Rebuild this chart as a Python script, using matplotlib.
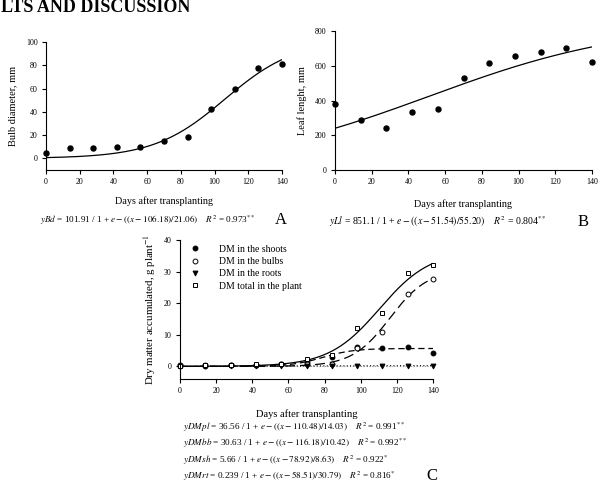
import numpy as np
import matplotlib
matplotlib.use("Agg")
import matplotlib.pyplot as plt

plt.rcParams["font.family"] = ["Liberation Serif", "DejaVu Serif"]
plt.rcParams["mathtext.fontset"] = "stix"

# sampling days
days = [0, 14, 28, 42, 56, 70, 84, 98, 112, 126, 140]

# panel A - bulb diameter (mm)
bulb_diam = [5, 8.5, 9, 9.5, 10, 15, 18.5, 42.5, 59.5, 78, 81]
bd_fit = [101.91, 106.18, 21.06]  # a, x0, b

# panel B - leaf length (mm)
leaf_len = [380, 288, 240, 335, 350, 527, 617, 655, 680, 702, 622]
ll_fit = [851.1, 51.54, 55.20]

# panel C - dry matter (g/plant)
dm_shoots = [0.2, 0.2, 0.3, 0.3, 0.6, 1.5, 3.0, 6.0, 5.9, 6.1, 4.3]
dm_bulbs = [0.3, 0.4, 0.5, 0.5, 0.8, 0.6, 0.9, 5.8, 11.0, 23.0, 27.5]
dm_roots = [0.05, 0.05, 0.05, 0.05, 0.05, 0.1, 0.1, 0.1, 0.1, 0.1, 0.1]
dm_total = [0.2, 0.4, 0.5, 0.6, 0.9, 2.2, 3.7, 12.3, 17.0, 29.5, 32.0]
fit_pl = [36.56, 110.48, 14.03]
fit_bb = [30.63, 116.18, 10.42]
fit_sh = [5.66, 78.92, 8.63]
fit_rt = [0.239, 58.51, 30.79]

W, H = 600, 488
EQ_FS = 6.6


def logistic(x, p):
    a, x0, b = p
    return a / (1 + np.exp(-(x - x0) / b))


def make_ax(fig, left, top, right, bottom):
    ax = fig.add_axes([left / W, 1 - bottom / H, (right - left) / W, (bottom - top) / H])
    ax.spines["top"].set_visible(False)
    ax.spines["right"].set_visible(False)
    for s in ("left", "bottom"):
        ax.spines[s].set_linewidth(0.8)
    ax.tick_params(direction="out", length=3, width=0.8, labelsize=5.7, pad=3)
    ax.set_xlim(0, 140)
    ax.set_xticks(range(0, 141, 20))
    return ax


fig = plt.figure(figsize=(W / 100, H / 100), dpi=100)

fig.text(1 / W, 1 - 7 / H, "LTS AND DISCUSSION", fontsize=13, fontweight="bold",
         va="center", ha="left")

xs = np.linspace(0, 140, 300)

# ---- A
ax = make_ax(fig, 46, 42, 282, 170)
ax.set_ylim(-10, 100)
ax.set_yticks(range(0, 101, 20))
ax.plot(xs, logistic(xs, bd_fit), color="black", lw=0.9)
ax.plot(days, bulb_diam, "o", color="black", ms=3.6, clip_on=False)
ax.set_ylabel("Bulb diameter, mm", fontsize=7.5, labelpad=6)
ax.set_xlabel("Days after transplanting", fontsize=7.3, labelpad=7)
fig.text(40 / W, 1 - 220 / H,
         r"$yBd$ = 101.91 / 1 + $e - ((x - 106.18) / 21.06)$    $R^2$ = 0.973$^{**}$",
         fontsize=EQ_FS, ha="left", va="center")
fig.text(275 / W, 1 - 220 / H, "A", fontsize=12, ha="left", va="center")

# ---- B
ax = make_ax(fig, 335, 31, 592, 170)
ax.set_ylim(0, 800)
ax.set_yticks(range(0, 801, 200))
ax.plot(xs, logistic(xs, ll_fit), color="black", lw=0.9)
ax.plot(days, leaf_len, "o", color="black", ms=3.6, clip_on=False)
ax.set_ylabel("Leaf lenght, mm", fontsize=7.5, labelpad=6)
ax.set_xlabel("Days after transplanting", fontsize=7.3, labelpad=9)
fig.text(329 / W, 1 - 222 / H,
         r"$yLl$ = 851.1 / 1 + $e - ((x - 51.54) / 55.20)$    $R^2$ = 0.804$^{**}$",
         fontsize=EQ_FS + 0.4, ha="left", va="center")
fig.text(578 / W, 1 - 222 / H, "B", fontsize=12, ha="left", va="center")

# ---- C
ax = make_ax(fig, 180, 240, 433, 379)
ax.set_ylim(-4, 40)
ax.set_yticks(range(0, 41, 10))
ax.axhline(0, color="#999999", lw=0.8, ls=(0, (1, 1.5)), zorder=1)
ax.plot(xs, logistic(xs, fit_pl), color="black", lw=0.9)
ax.plot(xs, logistic(xs, fit_bb), color="black", lw=0.9, ls=(0, (8, 4)))
ax.plot(xs, logistic(xs, fit_sh), color="black", lw=0.9, ls=(0, (5, 3)))
ax.plot(xs, logistic(xs, fit_rt), color="black", lw=0.8, ls=(0, (1, 2)))
mk = dict(ms=3.5, clip_on=False, ls="none", mew=0.7)
ax.plot(days, dm_shoots, "o", color="black", label="DM in the shoots", **mk)
ax.plot(days, dm_bulbs, "o", mfc="white", mec="black", label="DM in the bulbs", **mk)
ax.plot(days, dm_roots, "v", color="black", label="DM in the roots", **mk)
ax.plot(days, dm_total, "s", mfc="white", mec="black", label="DM total in the plant", **mk)
ax.legend(loc="upper left", bbox_to_anchor=(0.0, 1.03), frameon=False, fontsize=7,
          handletextpad=1.9, labelspacing=0.35, handlelength=1.2)
ax.set_ylabel(r"Dry matter accumulated, g plant$^{-1}$", fontsize=7.8, labelpad=4)
ax.set_xlabel("Days after transplanting", fontsize=7.6, labelpad=10)

eqs = [
    r"$yDMpl$ = 36.56 / 1 + $e - ((x - 110.48) / 14.03)$    $R^2$ = 0.991$^{**}$",
    r"$yDMbb$ = 30.63 / 1 + $e - ((x - 116.18) / 10.42)$    $R^2$ = 0.992$^{**}$",
    r"$yDMsh$ = 5.66 / 1 + $e - ((x - 78.92) / 8.63)$    $R^2$ = 0.922$^{*}$",
    r"$yDMrt$ = 0.239 / 1 + $e - ((x - 58.51) / 30.79)$    $R^2$ = 0.816$^{*}$",
]
for i, t in enumerate(eqs):
    fig.text(183 / W, 1 - (427 + 16.5 * i) / H, t, fontsize=EQ_FS, ha="left", va="center")
fig.text(426 / W, 1 - 476 / H, "C", fontsize=12, ha="left", va="center")

fig.savefig("out.png", dpi=100)
